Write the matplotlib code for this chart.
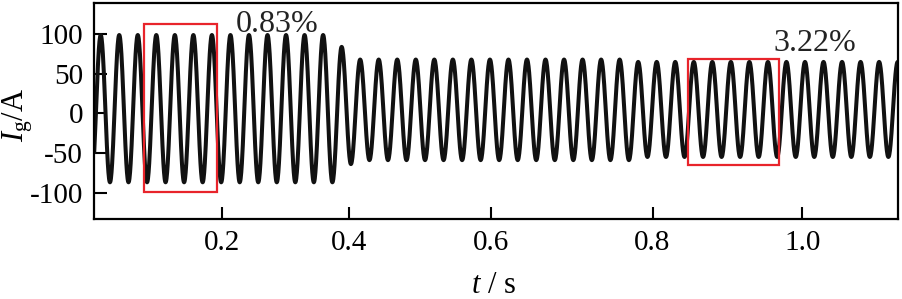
import numpy as np
import matplotlib
matplotlib.use('Agg')
import matplotlib.pyplot as plt
from matplotlib.patches import Rectangle

# waveform: one value per positive / negative extremum
period = 0.02534          # s, spacing between peaks
first_peak_t = 0.0495     # s
peak_vals = [99] * 13 + [84] + [68] * 15 + [65] * 15            # 44 positive peaks
trough_vals = [-87] * 14 + [-64] + [-59] * 15 + [-55] * 15      # 45 troughs, first one before first peak

# red boxes (x0, x1, y0, y1) and the THD labels
boxes = [(0.109, 0.208, -99.6, 112.9), (0.852, 0.977, -65.4, 68.7)]
thd_labels = ['0.83%', '3.22%']
thd_pos = [(0.234, 103), (0.969, 79)]

x_tick_labels = ['0.2', '0.4', '0.6', '0.8', '1.0']
x_tick_pos = [0.216, 0.389, 0.583, 0.804, 1.009]
y_ticks = [100, 50, 0, -50, -100]

plt.rcParams['font.family'] = ['Liberation Serif', 'DejaVu Serif']
plt.rcParams['mathtext.fontset'] = 'custom'
plt.rcParams['mathtext.rm'] = 'Liberation Serif'
plt.rcParams['mathtext.it'] = 'Liberation Serif:italic'
plt.rcParams['axes.unicode_minus'] = False

# extrema sequence: trough, peak, trough, peak, ...
ext_t, ext_v = [], []
t = first_peak_t - period / 2
for i in range(len(trough_vals)):
    ext_t.append(t); ext_v.append(trough_vals[i])
    t += period / 2
    if i < len(peak_vals):
        ext_t.append(t); ext_v.append(peak_vals[i])
        t += period / 2

ts, ys = [], []
s = np.linspace(0, 1, 30, endpoint=False)
for k in range(len(ext_t) - 1):
    a, b = ext_v[k], ext_v[k + 1]
    ts.append(ext_t[k] + s * (ext_t[k + 1] - ext_t[k]))
    ys.append((a + b) / 2 + (a - b) / 2 * np.cos(np.pi * s))
ts = np.concatenate(ts)
ys = np.concatenate(ys)

fig = plt.figure(figsize=(9.03, 2.99), dpi=100)
ax = fig.add_axes([0.1044, 0.2666, 0.8904, 0.7244])

ax.plot(ts, ys, color='#111111', lw=2.9)

for (x0, x1, y0, y1) in boxes:
    ax.add_patch(Rectangle((x0, y0), x1 - x0, y1 - y0, fill=False,
                           edgecolor='#e8242b', lw=1.6, zorder=3))
for txt, (tx, ty) in zip(thd_labels, thd_pos):
    ax.text(tx, ty, txt, fontsize=23, ha='left', va='baseline', color='#222222')

ax.set_xlim(0.0407, 1.140)
ax.set_ylim(-133.7, 139.8)
ax.set_xticks(x_tick_pos)
ax.set_xticklabels(x_tick_labels)
ax.set_yticks(y_ticks)
ax.tick_params(direction='in', length=9, width=1.5, labelsize=21, pad=8,
               top=False, right=False)
for sp in ax.spines.values():
    sp.set_linewidth(1.6)

ax.set_xlabel(r'$t$ / s', fontsize=22)
ax.xaxis.set_label_coords(0.497, -0.24)
ax.set_ylabel(r'$I_{\rm g}$/A', fontsize=22)
ax.yaxis.set_label_coords(-0.074, 0.48)

fig.savefig('out.png', dpi=100)
